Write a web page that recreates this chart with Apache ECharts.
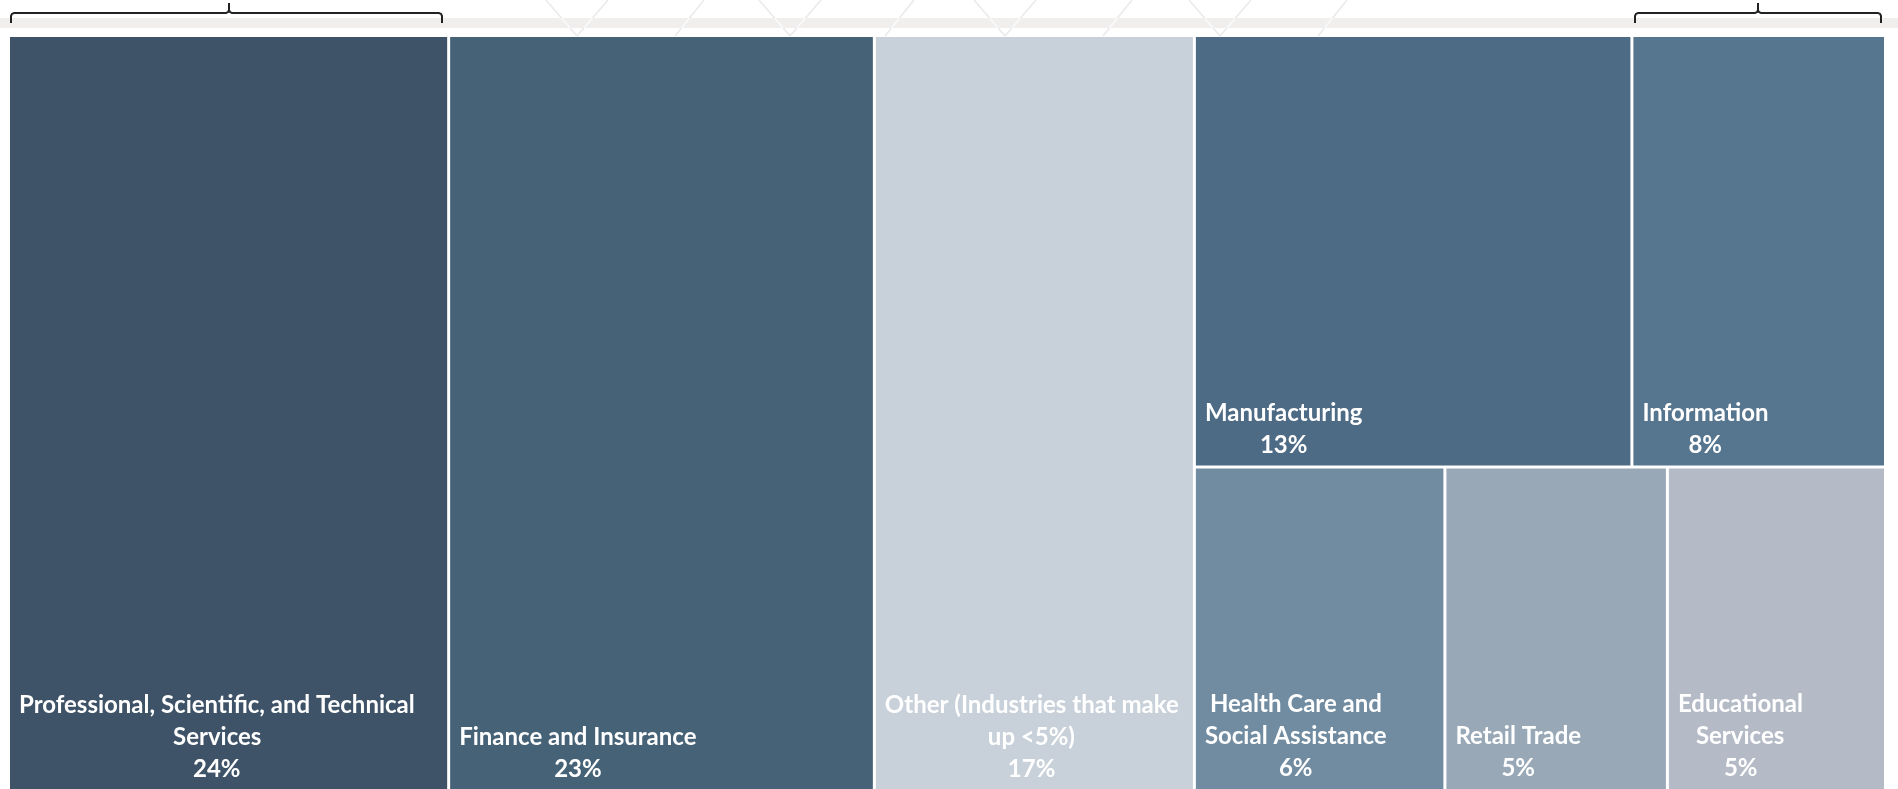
<!DOCTYPE html>
<html>
<head>
<meta charset="utf-8">
<script src="https://cdn.jsdelivr.net/npm/echarts@6/dist/echarts.min.js"></script>
<style>
  html, body { margin: 0; padding: 0; background: #ffffff; }
  #chart { width: 1898px; height: 789px; }
</style>
</head>
<body>
<div id="chart"></div>
<script>
// ---------------- data ----------------
const categories = [
  'Professional, Scientific, and Technical Services',
  'Finance and Insurance',
  'Other (Industries that make up <5%)',
  'Manufacturing',
  'Information',
  'Health Care and Social Assistance',
  'Retail Trade',
  'Educational Services'
];
// tile sizes (share of total area, %)
const tileValues = [23.45, 22.68, 17.05, 13.32, 7.72, 5.72, 5.08, 4.98];
// percentage labels as printed on the tiles
const pctLabels = ['24%', '23%', '17%', '13%', '8%', '6%', '5%', '5%'];
const nameLines = [
  ['Professional, Scientific, and Technical', 'Services'],
  ['Finance and Insurance'],
  ['Other (Industries that make', 'up <5%)'],
  ['Manufacturing'],
  ['Information'],
  ['Health Care and', 'Social Assistance'],
  ['Retail Trade'],
  ['Educational', 'Services']
];
// grouping of the tiles: three full-height columns, then a block of two rows
const topLevel = [0, 1, 2];
const blockRows = [[3, 4], [5, 6, 7]];

// ---------------- styles ----------------
const cellColors = ['#3e5367', '#466277', '#c8d1d9', '#4e6b85', '#56758f', '#718ca1', '#98a8b7', '#b4bbc7'];
const FONT_SIZE = 24;
const FONT_FAMILY = 'Lato';
const LINE_HEIGHT = 32;
const PAD_BOTTOM = 4;
const PAD_LEFT = 9;

// labels: lines centred within their own block, block anchored bottom-left
const measureCtx = document.createElement('canvas').getContext('2d');
measureCtx.font = 'bold ' + FONT_SIZE + 'px ' + FONT_FAMILY;
const rich = {
  t: { color: '#ffffff', fontSize: FONT_SIZE, fontWeight: 'bold', fontFamily: FONT_FAMILY, lineHeight: LINE_HEIGHT }
};
const labelText = {};
const labelLineCount = {};
categories.forEach(function (name, i) {
  const lines = nameLines[i].concat([pctLabels[i]]);
  labelLineCount[name] = lines.length;
  const widths = lines.map(function (l) { return measureCtx.measureText(l).width; });
  const blockW = Math.max.apply(null, widths);
  labelText[name] = lines.map(function (l, k) {
    const off = Math.round((blockW - widths[k]) / 2);
    let s = '';
    if (off > 0) {
      const key = 'p' + off;
      rich[key] = { width: off, fontSize: FONT_SIZE, fontFamily: FONT_FAMILY, lineHeight: LINE_HEIGHT };
      s = '{' + key + '| }';
    }
    return s + '{t|' + l + '}';
  }).join('\n');
});

function sumOf(idx) { return idx.reduce(function (s, i) { return s + tileValues[i]; }, 0); }
function buildTree(padTop) {
  function leaf(i) {
    const item = { name: categories[i], value: tileValues[i], itemStyle: { color: cellColors[i] } };
    if (padTop && padTop[categories[i]] != null) {
      item.label = { padding: [padTop[categories[i]], 0, PAD_BOTTOM, PAD_LEFT] };
    }
    return item;
  }
  return topLevel.map(leaf).concat([{
    name: 'block',
    value: sumOf([].concat.apply([], blockRows)),
    children: blockRows.map(function (row, r) {
      return { name: 'row' + r, value: sumOf(row), children: row.map(leaf) };
    })
  }]);
}

// ---------------- decorations ----------------
const bandY = 18, bandH = 10, decoBottom = 36;
const vBottoms = [577, 790, 1005, 1220];
const slashBottoms = [675, 885, 1103, 1318];
const decoSegs = [];
vBottoms.forEach(function (b) { decoSegs.push([b - 31, b]); decoSegs.push([b + 31, b]); });
slashBottoms.forEach(function (b) { decoSegs.push([b + 29, b]); });

const graphics = [];
decoSegs.forEach(function (s) {
  graphics.push({ type: 'line', z: 1, silent: true,
    shape: { x1: s[0], y1: 0, x2: s[1], y2: decoBottom },
    style: { stroke: '#ebeaea', lineWidth: 1.5 } });
});
graphics.push({ type: 'rect', z: 2, silent: true,
  shape: { x: 0, y: bandY, width: 1898, height: bandH }, style: { fill: '#f1eeee' } });
decoSegs.forEach(function (s) {
  const xa = s[0] + (s[1] - s[0]) * bandY / decoBottom;
  const xb = s[0] + (s[1] - s[0]) * (bandY + bandH) / decoBottom;
  graphics.push({ type: 'line', z: 3, silent: true,
    shape: { x1: xa, y1: bandY, x2: xb, y2: bandY + bandH },
    style: { stroke: '#fbfafa', lineWidth: 1.5 } });
});
function bracketHalves(x0, xc, x1) {
  const half = function (xe, dir) {
    return [[xe, 23], [xe, 16], [xe + dir * 0.9, 13.9], [xe + dir * 3, 13],
            [xc - dir * 3, 13], [xc - dir * 0.9, 12.1], [xc, 10], [xc, 3]];
  };
  return [half(x0, 1), half(x1, -1)];
}
[[11, 229, 442], [1635, 1758, 1881]].forEach(function (b) {
  bracketHalves(b[0], b[1], b[2]).forEach(function (pts) {
    graphics.push({ type: 'polyline', z: 4, silent: true,
      shape: { points: pts }, style: { stroke: '#222222', lineWidth: 2, fill: null } });
  });
});

// ---------------- chart ----------------
const chart = echarts.init(document.getElementById('chart'), null, { renderer: 'canvas' });
function makeOption(padTop) {
  return {
    animation: false,
    backgroundColor: '#ffffff',
    tooltip: { show: false },
    graphic: graphics,
    series: [{
      type: 'treemap',
      left: 10, top: 37, width: 1874, height: 752,
      roam: false,
      nodeClick: false,
      sort: false,
      squareRatio: 1,
      breadcrumb: { show: false },
      itemStyle: { borderWidth: 0, gapWidth: 3, borderColor: '#ffffff' },
      upperLabel: { show: false },
      label: {
        show: true,
        position: 'insideTopLeft',
        distance: 0,
        padding: [0, 0, PAD_BOTTOM, PAD_LEFT],
        overflow: 'none',
        formatter: function (p) { return labelText[p.name] || ''; },
        rich: rich
      },
      data: buildTree(padTop)
    }]
  };
}
chart.setOption(makeOption(null));

// second pass: push each label block to the bottom of its tile,
// using the tile heights computed by the treemap layout
try {
  const tree = chart.getModel().getSeriesByIndex(0).getData().tree;
  const padTop = {};
  tree.eachNode(function (node) {
    if (labelLineCount[node.name] != null) {
      const lay = node.getLayout();
      if (lay && lay.height) {
        padTop[node.name] = Math.max(0, Math.floor(lay.height - labelLineCount[node.name] * LINE_HEIGHT - PAD_BOTTOM));
      }
    }
  });
  chart.setOption(makeOption(padTop), { notMerge: true });
} catch (e) {
  console.log(e);
}
</script>
</body>
</html>
